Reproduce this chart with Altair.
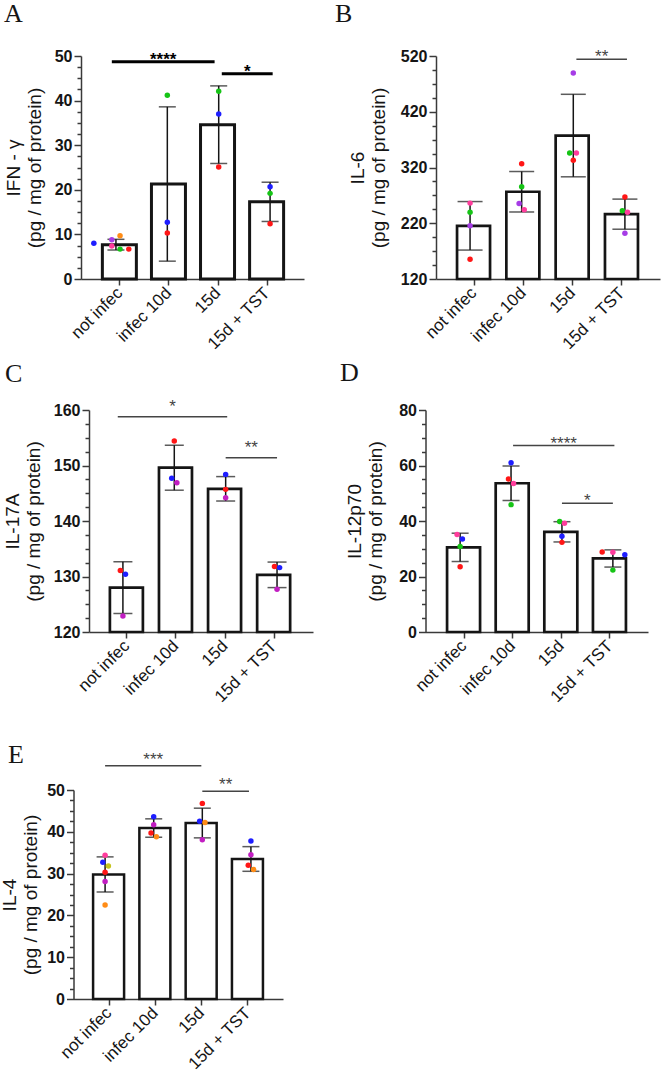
import json

import altair as alt
import pandas as pd

W, H = 661, 1073
SANS = "Liberation Sans"
SERIF = "Liberation Serif"

CATEGORIES = ["not infec", "infec 10d", "15d", "15d + TST"]
UNIT_LINE = "(pg / mg of protein)"

# individual animals, one colour each
MICE = ["m1", "m2", "m3", "m4", "m5", "m6", "m7", "m8"]
MOUSE_COLORS = ["#ff1616", "#1e1eff", "#16c416", "#a63ce6",
                "#ff3c9c", "#ff8c16", "#c6c41e", "#c21ec2"]

# ---------------- A: IFN-γ ----------------
IFN_MEAN = [7.7, 21.3, 34.6, 17.3]
IFN_SD = [1.2, 17.3, 8.7, 4.4]
IFN_GROUP = [0, 0, 0, 0, 0, 0, 1, 1, 1, 2, 2, 2, 3, 3, 3]
IFN_VALUE = [8.0, 9.7, 8.8, 7.4, 6.7, 6.7, 41.2, 12.7, 10.3, 42.1, 37.0, 25.1, 20.7, 19.2, 12.4]
IFN_JITTER = [-0.43, 0.08, -0.08, -0.08, 0.08, 0.25, 0, 0, 0, 0, 0, 0, 0, 0, 0]
IFN_MOUSE = ["m2", "m6", "m4", "m5", "m3", "m1", "m3", "m2", "m1", "m3", "m2", "m1", "m2", "m3", "m1"]
IFN_SIG_FROM = [-0.08, 2.06]
IFN_SIG_TO = [1.92, 3.05]
IFN_SIG_Y = [48.7, 46.0]
IFN_SIG_LABEL = ["****", "*"]

# ---------------- B: IL-6 ----------------
IL6_MEAN = [215.4, 276.5, 377.3, 236.3]
IL6_SD = [43.5, 36.3, 74.0, 27.0]
IL6_GROUP = [0, 0, 0, 0, 1, 1, 1, 1, 2, 2, 2, 2, 3, 3, 3, 3]
IL6_VALUE = [256.1, 239.9, 215.4, 155.4, 326.9, 285.5, 255.5, 244.1,
             489.4, 346.1, 346.1, 332.9, 266.9, 242.3, 239.9, 202.2]
IL6_JITTER = [0, 0, 0, 0, 0, 0, -0.05, 0.05, 0, -0.07, 0.06, 0, 0, -0.05, 0.05, 0]
IL6_MOUSE = ["m5", "m3", "m4", "m1", "m1", "m3", "m4", "m5",
             "m4", "m3", "m5", "m1", "m1", "m3", "m5", "m4"]
IL6_SIG_FROM = [2.06]
IL6_SIG_TO = [3.04]
IL6_SIG_Y = [514.0]
IL6_SIG_LABEL = ["**"]

# ---------------- C: IL-17A ----------------
IL17_MEAN = [128.0, 149.6, 145.8, 130.3]
IL17_SD = [4.65, 4.05, 2.2, 2.3]
IL17_GROUP = [0, 0, 0, 1, 1, 1, 2, 2, 2, 3, 3, 3]
IL17_VALUE = [131.1, 130.4, 122.9, 154.4, 147.7, 146.9, 148.4, 145.7, 144.2, 131.8, 131.6, 127.7]
IL17_JITTER = [-0.05, 0.05, 0, 0, -0.05, 0.05, 0, 0, 0, -0.05, 0.05, 0]
IL17_MOUSE = ["m1", "m2", "m8", "m1", "m2", "m8", "m2", "m1", "m8", "m1", "m2", "m8"]
IL17_SIG_FROM = [-0.10, 2.0]
IL17_SIG_TO = [2.03, 3.0]
IL17_SIG_Y = [158.8, 151.4]
IL17_SIG_LABEL = ["*", "**"]

# ---------------- D: IL-12p70 ----------------
IL12_MEAN = [30.5, 53.6, 36.1, 26.5]
IL12_SD = [5.1, 6.25, 3.65, 3.1]
IL12_GROUP = [0, 0, 0, 0, 1, 1, 1, 1, 2, 2, 2, 2, 3, 3, 3, 3]
IL12_VALUE = [35.1, 33.5, 30.8, 23.5, 61.0, 55.1, 53.5, 45.9,
              39.8, 39.2, 34.5, 32.3, 28.8, 28.7, 27.8, 22.3]
IL12_JITTER = [-0.06, 0.045, 0, 0, 0, -0.05, 0.05, 0, -0.045, 0.05, 0, 0, -0.21, 0, 0.235, 0]
IL12_MOUSE = ["m5", "m2", "m3", "m1", "m2", "m1", "m5", "m3",
              "m3", "m5", "m2", "m1", "m1", "m5", "m2", "m3"]
IL12_SIG_FROM = [1.04, 2.0]
IL12_SIG_TO = [3.03, 3.0]
IL12_SIG_Y = [67.2, 46.4]
IL12_SIG_LABEL = ["****", "*"]

# ---------------- E: IL-4 ----------------
IL4_MEAN = [29.8, 40.9, 42.1, 33.5]
IL4_SD = [4.2, 2.2, 3.55, 2.95]
IL4_GROUP = [0, 0, 0, 0, 0, 0, 1, 1, 1, 1, 2, 2, 2, 2, 3, 3, 3, 3]
IL4_VALUE = [34.4, 32.7, 31.8, 30.3, 28.1, 22.5, 43.6, 41.7, 39.7, 38.8,
             46.8, 42.5, 42.2, 38.1, 37.8, 34.5, 32.0, 31.0]
IL4_JITTER = [0, -0.047, 0.068, 0, 0, 0, 0, 0, -0.055, 0.055,
              0, -0.055, 0.055, 0, 0, 0, -0.055, 0.055]
IL4_MOUSE = ["m5", "m2", "m7", "m1", "m8", "m6", "m2", "m8", "m1", "m6",
             "m1", "m2", "m6", "m8", "m2", "m8", "m1", "m6"]
IL4_SIG_FROM = [0.0, 2.0]
IL4_SIG_TO = [1.98, 2.96]
IL4_SIG_Y = [55.8, 49.7]
IL4_SIG_LABEL = ["***", "**"]

# layout / style of each panel (pixel frame of the plot area, tick steps, strokes)
PANELS = [
    dict(letter="A", title=["IFN - γ", UNIT_LINE], mean=IFN_MEAN, sd=IFN_SD,
         group=IFN_GROUP, value=IFN_VALUE, jitter=IFN_JITTER, mouse=IFN_MOUSE,
         sig=(IFN_SIG_FROM, IFN_SIG_TO, IFN_SIG_Y, IFN_SIG_LABEL),
         ydomain=[0, 50], major=10, minor=2.5,
         xrange=[81, 304], yrange=[279, 56], xdomain=[-0.68, 3.66],
         bar_w=34, cap_w=17, bar_sw=3.0, sig_w=3.0, sig_color="#000", sig_bold=True, sig_dy=3.5,
         title_pad=10, letter_xy=(4, 22)),
    dict(letter="B", title=["IL-6", UNIT_LINE], mean=IL6_MEAN, sd=IL6_SD,
         group=IL6_GROUP, value=IL6_VALUE, jitter=IL6_JITTER, mouse=IL6_MOUSE,
         sig=(IL6_SIG_FROM, IL6_SIG_TO, IL6_SIG_Y, IL6_SIG_LABEL),
         ydomain=[120, 520], major=100, minor=25,
         xrange=[436, 660], yrange=[279, 56], xdomain=[-0.66, 3.68],
         bar_w=33, cap_w=25, bar_sw=2.7, sig_w=1.5, sig_color="#444", sig_bold=False, sig_dy=3,
         title_pad=12, letter_xy=(335, 22)),
    dict(letter="C", title=["IL-17A", UNIT_LINE], mean=IL17_MEAN, sd=IL17_SD,
         group=IL17_GROUP, value=IL17_VALUE, jitter=IL17_JITTER, mouse=IL17_MOUSE,
         sig=(IL17_SIG_FROM, IL17_SIG_TO, IL17_SIG_Y, IL17_SIG_LABEL),
         ydomain=[120, 160], major=10, minor=2.5,
         xrange=[89, 313], yrange=[632, 410], xdomain=[-0.66, 3.70],
         bar_w=33, cap_w=19, bar_sw=2.7, sig_w=1.5, sig_color="#444", sig_bold=False, sig_dy=-5,
         title_pad=10, letter_xy=(5, 382)),
    dict(letter="D", title=["IL-12p70", UNIT_LINE], mean=IL12_MEAN, sd=IL12_SD,
         group=IL12_GROUP, value=IL12_VALUE, jitter=IL12_JITTER, mouse=IL12_MOUSE,
         sig=(IL12_SIG_FROM, IL12_SIG_TO, IL12_SIG_Y, IL12_SIG_LABEL),
         ydomain=[0, 80], major=20, minor=5,
         xrange=[425.5, 648], yrange=[632, 410], xdomain=[-0.68, 3.69],
         bar_w=33, cap_w=17, bar_sw=2.7, sig_w=1.5, sig_color="#444", sig_bold=False, sig_dy=3,
         title_pad=13, letter_xy=(340, 381)),
    dict(letter="E", title=["IL-4", UNIT_LINE], mean=IL4_MEAN, sd=IL4_SD,
         group=IL4_GROUP, value=IL4_VALUE, jitter=IL4_JITTER, mouse=IL4_MOUSE,
         sig=(IL4_SIG_FROM, IL4_SIG_TO, IL4_SIG_Y, IL4_SIG_LABEL),
         ydomain=[0, 50], major=10, minor=2.5,
         xrange=[73.5, 283], yrange=[999, 790], xdomain=[-0.65, 3.66],
         bar_w=31, cap_w=17, bar_sw=2.5, sig_w=1.5, sig_color="#444", sig_bold=False, sig_dy=-1,
         title_pad=6, letter_xy=(8, 763)),
]

AXIS_COLOR = "#3a3a3a"
INK = "#151515"
MOUSE_SCALE = alt.Scale(domain=MICE, range=MOUSE_COLORS)


def tick_values(lo, hi, step):
    n = int(round((hi - lo) / step))
    return [lo + i * step for i in range(n + 1)]


def build_panel(cfg):
    """All layers of one panel; each gets an identical explicit x/y scale."""
    lo, hi = cfg["ydomain"]
    groups = pd.DataFrame({"group": list(range(len(CATEGORIES))),
                           "mean": cfg["mean"], "sd": cfg["sd"]})
    points = pd.DataFrame({"group": cfg["group"], "value": cfg["value"],
                           "jitter": cfg["jitter"], "mouse": cfg["mouse"]})
    s_from, s_to, s_y, s_label = cfg["sig"]
    sig = pd.DataFrame({"start": s_from, "end": s_to, "y": s_y, "label": s_label})

    def xs():
        return alt.Scale(domain=cfg["xdomain"], range=cfg["xrange"], nice=False, zero=False)

    def ys():
        return alt.Scale(domain=cfg["ydomain"], range=cfg["yrange"], nice=False, zero=False)

    major_test = f"abs(datum.value - {lo}) % {cfg['major']} < 0.000001"
    x_axis = alt.Axis(
        orient="bottom", offset=cfg["yrange"][0] - H, values=list(range(len(CATEGORIES))),
        labelExpr=f"{json.dumps(CATEGORIES)}[datum.value]", labelAngle=-45,
        labelAlign="right", labelBaseline="middle", labelOverlap=False,
        labelFont=SANS, labelFontSize=17, labelColor=INK, labelPadding=5,
        tickSize=6, tickWidth=1.5, tickColor=AXIS_COLOR,
        domainColor=AXIS_COLOR, domainWidth=1.5, grid=False, title=None,
    )
    y_axis = alt.Axis(
        orient="left", offset=-cfg["xrange"][0],
        values=tick_values(lo, hi, cfg["minor"]),
        labelExpr=f"{major_test} ? datum.label : ''",
        labelOverlap=False, labelFlush=False,
        labelFont=SANS, labelFontSize=16, labelFontWeight="bold", labelColor=INK,
        labelPadding=2,
        tickSize={"condition": {"test": major_test, "value": 7}, "value": 4},
        tickWidth=1.5, tickColor=AXIS_COLOR,
        domainColor=AXIS_COLOR, domainWidth=1.5, grid=False,
        title=cfg["title"], titleFont=SANS, titleFontSize=19, titleFontWeight="normal",
        titleColor=INK, titleLineHeight=21, titlePadding=cfg["title_pad"],
    )

    bars = alt.Chart(groups).mark_bar(
        width=cfg["bar_w"], fill="white", stroke=INK, strokeWidth=cfg["bar_sw"]
    ).encode(
        x=alt.X("group:Q", scale=xs(), axis=x_axis),
        y=alt.Y("mean:Q", scale=ys(), axis=y_axis),
        y2=alt.datum(lo),
    )

    err = alt.Chart(groups).transform_calculate(
        lo="datum.mean - datum.sd", hi="datum.mean + datum.sd"
    )
    whisker = err.mark_rule(color=INK, strokeWidth=1.5).encode(
        x=alt.X("group:Q", scale=xs(), axis=None),
        y=alt.Y("lo:Q", scale=ys(), axis=None),
        y2="hi:Q",
    )
    caps = err.transform_fold(["lo", "hi"], as_=["end", "bound"]).mark_tick(
        orient="horizontal", size=cfg["cap_w"], thickness=1.5, color=INK
    ).encode(
        x=alt.X("group:Q", scale=xs(), axis=None),
        y=alt.Y("bound:Q", scale=ys(), axis=None),
    )

    dots = alt.Chart(points).transform_calculate(
        xpos="datum.group + datum.jitter"
    ).mark_circle(size=30, opacity=1).encode(
        x=alt.X("xpos:Q", scale=xs(), axis=None),
        y=alt.Y("value:Q", scale=ys(), axis=None),
        color=alt.Color("mouse:N", scale=MOUSE_SCALE, legend=None),
    )

    sig_line = alt.Chart(sig).mark_rule(
        color=cfg["sig_color"], strokeWidth=cfg["sig_w"]
    ).encode(
        x=alt.X("start:Q", scale=xs(), axis=None),
        x2="end:Q",
        y=alt.Y("y:Q", scale=ys(), axis=None),
    )
    sig_text = alt.Chart(sig).transform_calculate(
        mid="(datum.start + datum.end) / 2"
    ).mark_text(
        font=SANS, fontSize=17, fontWeight="bold" if cfg["sig_bold"] else "normal",
        color=cfg["sig_color"], align="center", baseline="alphabetic", dy=cfg["sig_dy"],
    ).encode(
        x=alt.X("mid:Q", scale=xs(), axis=None),
        y=alt.Y("y:Q", scale=ys(), axis=None),
        text="label:N",
    )

    return [bars, whisker, caps, dots, sig_line, sig_text]


def build_letter(cfg):
    lx, ly = cfg["letter_xy"]
    return alt.Chart(pd.DataFrame({"letter": [cfg["letter"]]})).mark_text(
        font=SERIF, fontSize=26, align="left", baseline="alphabetic", color=INK
    ).encode(x=alt.value(lx), y=alt.value(ly), text="letter:N")


layers = []
for cfg in PANELS:
    layers.extend(build_panel(cfg))
layers.extend(build_letter(cfg) for cfg in PANELS)

chart = alt.layer(*layers).resolve_scale(
    x="independent", y="independent"
).resolve_axis(
    x="independent", y="independent"
).properties(
    width=W, height=H, padding=0,
    autosize=alt.AutoSizeParams(type="none"),
    background="white",
).configure_view(stroke=None)

chart.save("out.html", embed_options={"renderer": "svg", "actions": False})
